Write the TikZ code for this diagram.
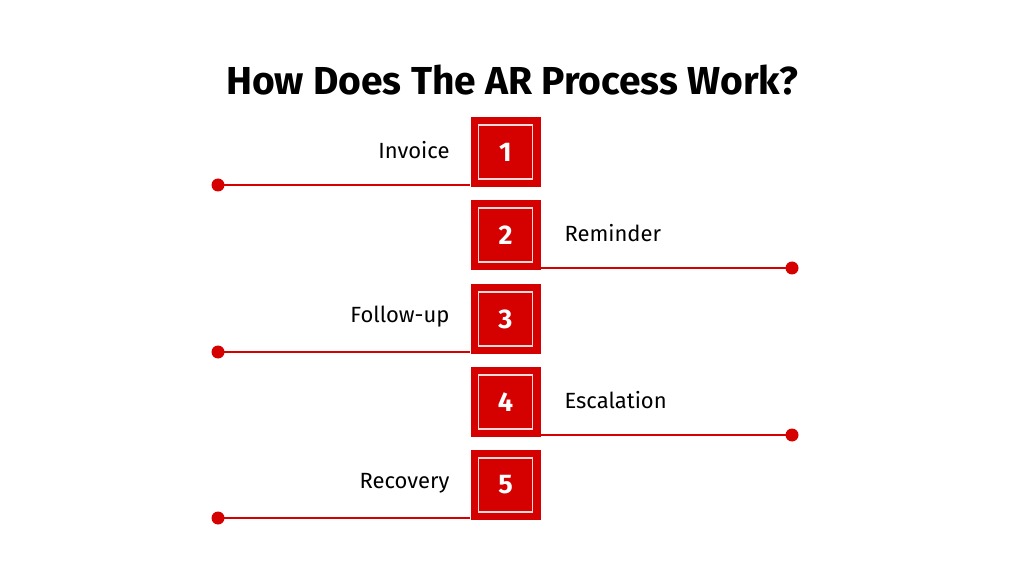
\documentclass[tikz,border=0pt]{standalone}
\usepackage{fontspec}
\setmainfont{Fira Sans}
\definecolor{arred}{HTML}{D50000}
\begin{document}
\begin{tikzpicture}[x=1pt,y=-1pt,
 box/.style={fill=arred,minimum size=70pt,inner sep=0pt,draw=none,text=white,font=\fontsize{27}{30}\selectfont\bfseries},
 frame/.style={draw=white!85!arred,line width=1.2pt,minimum size=54pt,inner sep=0pt},
 lbl/.style={font=\fontsize{22}{26}\selectfont,text=black},
 conn/.style={draw=arred,line width=2.5pt},
 dot/.style={circle,fill=arred,minimum size=13pt,inner sep=0pt}]
\useasboundingbox (0,0) rectangle (1012,569);
\node[font=\fontsize{39}{44}\selectfont\bfseries] (title) at (512,80) {How Does The AR Process Work?};
\foreach \i/\y/\t/\side in {1/152/Invoice/L,2/235/Reminder/R,3/319/Follow-up/L,4/402/Escalation/R,5/485/Recovery/L}{
 \node[box] (b\i) at (505.5,\y) {};
 \node[frame] (f\i) at (b\i.center) {};
 \node[box,fill=none] (n\i) at (b\i.center) {\i};
 \if\side L
  \node[dot] (d\i) at (218,\y+33) {};
  \node[lbl,anchor=east] (t\i) at (453,\y-2) {\t};
  \draw[conn] (d\i.center) -- (b\i.south west |- d\i.center);
 \else
  \node[dot] (d\i) at (792,\y+33) {};
  \node[lbl,anchor=west] (t\i) at (561,\y-2) {\t};
  \draw[conn] (b\i.south east |- d\i.center) -- (d\i.center);
 \fi
}
\end{tikzpicture}
\end{document}
